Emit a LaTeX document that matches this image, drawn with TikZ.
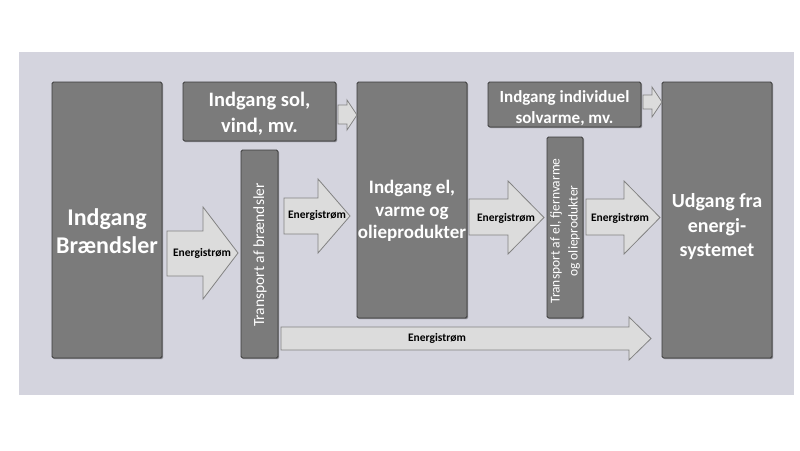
\documentclass[tikz,border=0pt]{standalone}
\usepackage{fontspec}
\setmainfont{Carlito}
\usetikzlibrary{shadows}
\definecolor{bgc}{RGB}{212,212,222}
\definecolor{boxc}{RGB}{123,123,123}
\definecolor{boxl}{RGB}{58,58,58}
\definecolor{arrc}{RGB}{220,220,220}
\definecolor{arrl}{RGB}{130,130,130}
\tikzset{
  box/.style={draw=boxl, line width=0.9pt, fill=boxc, rounded corners=1.5pt, inner sep=0pt, outer sep=0pt,
    drop shadow={shadow xshift=1.2pt, shadow yshift=-1.2pt, opacity=0.35, fill=black}},
  boxtext/.style={text=white, font=\bfseries, align=center, inner sep=0pt},
  rottext/.style={text=white, align=center, inner sep=0pt, rotate=90},
  flow/.style={draw=arrl, line width=0.8pt, fill=arrc, line join=miter},
  flowlabel/.style={font=\bfseries\fontsize{11.5}{13}\selectfont, text=black, inner sep=0pt}
}
\begin{document}
\begin{tikzpicture}[x=1pt, y=-1pt]
\useasboundingbox (0,0) rectangle (800,450);
\fill[white] (0,0) rectangle (800,450);
\fill[bgc] (19,52) rectangle (794,395);

% boxes
\node[box, minimum width=110pt, minimum height=276pt] (b1) at (107,220) {};
\node[box, minimum width=153pt, minimum height=59pt] (sol) at (259.5,111.5) {};
\node[box, minimum width=37pt, minimum height=208pt] (t1) at (259.5,254) {};
\node[box, minimum width=110pt, minimum height=236pt] (el) at (412,200) {};
\node[box, minimum width=153pt, minimum height=45pt] (ind) at (564.5,104.5) {};
\node[box, minimum width=36pt, minimum height=181pt] (t2) at (565,227.5) {};
\node[box, minimum width=110pt, minimum height=276pt] (ud) at (717,220) {};

% box texts
\node[boxtext, font=\bfseries\fontsize{24}{28}\selectfont] (b1t) at (107,231) {Indgang\\Brændsler};
\node[boxtext, font=\bfseries\fontsize{20.5}{26}\selectfont] (solt) at (259.5,114) {Indgang sol,\\vind, mv.};
\node[boxtext, font=\bfseries\fontsize{19}{22.5}\selectfont] (elt) at (412,211) {Indgang el,\\varme og\\olieprodukter};
\node[boxtext, font=\bfseries\fontsize{17}{21}\selectfont] (indt) at (564.5,108) {Indgang individuel\\solvarme, mv.};
\node[boxtext, font=\bfseries\fontsize{20}{24.5}\selectfont] (udt) at (717,227) {Udgang fra\\energi-\\systemet};
\node[rottext, font=\fontsize{15.5}{18}\selectfont] (t1t) at (260,255) {Transport af brændsler};
\node[rottext, font=\fontsize{13.5}{18}\selectfont] (t2t) at (565,231) {Transport af el, fjernvarme\\og olieprodukter};

% block arrows
\draw[flow] (167,231) -- (203,231) -- (203,207) -- (238,253) -- (203,299) -- (203,276) -- (167,276) -- cycle;
\draw[flow] (284,198) -- (318,198) -- (318,179) -- (350,216) -- (318,253) -- (318,234) -- (284,234) -- cycle;
\draw[flow] (469,199) -- (508,199) -- (508,181) -- (544,217.5) -- (508,254) -- (508,235) -- (469,235) -- cycle;
\draw[flow] (586,199) -- (624,199) -- (624,181) -- (660,217.5) -- (624,254) -- (624,235) -- (586,235) -- cycle;
\draw[flow] (338,105) -- (347,105) -- (347,100) -- (357,115) -- (347,130) -- (347,124) -- (338,124) -- cycle;
\draw[flow] (643,95) -- (652,95) -- (652,87) -- (662,102) -- (652,117) -- (652,109) -- (643,109) -- cycle;
\draw[flow] (281,327) -- (629,327) -- (629,317) -- (651,338.5) -- (629,360) -- (629,350) -- (281,350) -- cycle;

% flow labels
\node[flowlabel] (f1) at (202,253) {Energistrøm};
\node[flowlabel] (f2) at (317,215.5) {Energistrøm};
\node[flowlabel] (f3) at (506,218) {Energistrøm};
\node[flowlabel] (f4) at (620,218) {Energistrøm};
\node[flowlabel] (f5) at (437,338.5) {Energistrøm};
\end{tikzpicture}
\end{document}
